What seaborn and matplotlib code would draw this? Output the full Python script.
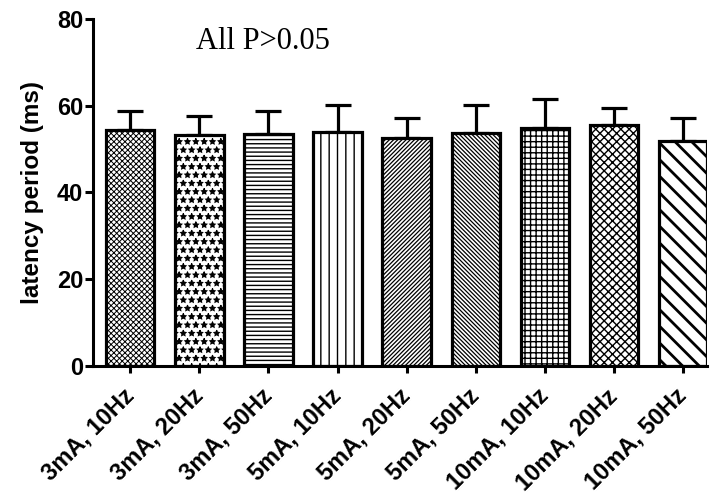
import matplotlib
matplotlib.use("Agg")
import matplotlib.pyplot as plt
import seaborn as sns
import numpy as np
import pandas as pd

categories = ["3mA, 10Hz", "3mA, 20Hz", "3mA, 50Hz", "5mA, 10Hz", "5mA, 20Hz",
              "5mA, 50Hz", "10mA, 10Hz", "10mA, 20Hz", "10mA, 50Hz"]
means = [54.4, 53.3, 53.5, 53.9, 52.6, 53.6, 54.9, 55.6, 51.9]
sem = [4.4, 4.4, 5.2, 6.2, 4.6, 6.5, 6.6, 3.8, 5.2]
hatches = ["xxxxxx", "**", "----", "||", "////////", "\\" * 8, "+++", "xxxx", "\\\\"]
hatch_lw = [0.7, 0.8, 1.0, 1.0, 0.9, 0.9, 1.0, 1.0, 2.0]

df = pd.DataFrame({"group": categories, "latency": means})

sns.set_style("ticks")
plt.rcParams["font.family"] = ["Liberation Sans", "DejaVu Sans"]
plt.rcParams["hatch.linewidth"] = 1.0
for k in ["text.color", "axes.labelcolor", "xtick.color", "ytick.color", "axes.edgecolor"]:
    plt.rcParams[k] = "black"

fig = plt.figure(figsize=(7.1, 4.98), dpi=100)
ax = fig.add_axes([0.131, 0.265, 0.865, 0.697])

sns.barplot(data=df, x="group", y="latency", color="white", edgecolor="black",
            linewidth=2.3, width=0.7, saturation=1, ax=ax, zorder=2)
for patch, h, lw in zip(ax.patches, hatches, hatch_lw):
    patch.set_hatch(h)
    patch.set_facecolor("white")
    patch.set_edgecolor("black")
    if hasattr(patch, "set_hatch_linewidth"):
        patch.set_hatch_linewidth(lw)

x = np.arange(len(categories))
ax.errorbar(x, means, yerr=[np.zeros(len(sem)), sem], fmt="none", ecolor="black",
            elinewidth=2.3, capsize=9.5, capthick=2.3, zorder=1)

ax.set_ylim(0, 80)
ax.set_xlim(-0.54, 8.35)
ax.set_yticks([0, 20, 40, 60, 80])
ax.set_ylabel("latency period (ms)", fontsize=17.5, fontweight="bold", labelpad=9)
ax.set_xlabel("")
ax.set_xticks(x)
ax.set_xticklabels(categories, rotation=45, ha="right", va="center",
                   rotation_mode="anchor", fontsize=17, fontweight="bold")
for lab in ax.get_yticklabels():
    lab.set_fontsize(17)
    lab.set_fontweight("bold")

sns.despine(ax=ax)
for s in ["left", "bottom"]:
    ax.spines[s].set_linewidth(2.2)
ax.tick_params(axis="y", width=2.2, length=6, pad=1)
ax.tick_params(axis="x", width=2.2, length=5, pad=14)

ax.text(0.168, 0.934, "All P>0.05", transform=ax.transAxes, fontsize=22,
        family=["Liberation Serif", "DejaVu Serif"], ha="left", va="center")

fig.savefig("out.png", dpi=100)
